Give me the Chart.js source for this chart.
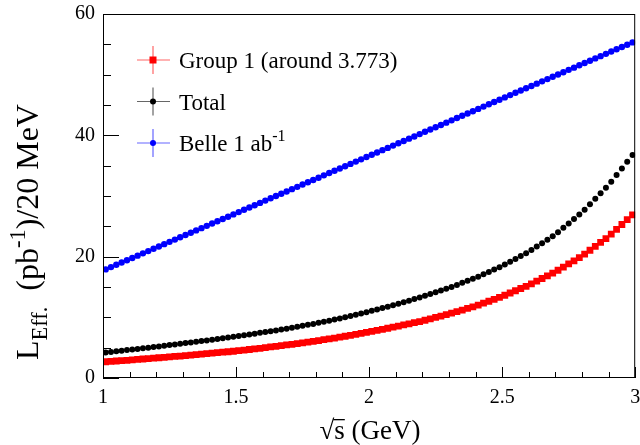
<!DOCTYPE html>
<html>
<head>
    <meta charset="UTF-8">
    <title>L eff vs sqrt(s)</title>
    <style>
        body { margin: 0; background: #fff; }
        canvas { display: block; }
    </style>
    <script src="https://cdn.jsdelivr.net/npm/chart.js"></script>
</head>
<body>
<canvas id="grafico" width="640" height="445"></canvas>
<script>
    // centros dos bins de 20 MeV (GeV)
    const energias = [
        1.01,1.03,1.05,1.07,1.09,1.11,1.13,1.15,1.17,1.19,
        1.21,1.23,1.25,1.27,1.29,1.31,1.33,1.35,1.37,1.39,
        1.41,1.43,1.45,1.47,1.49,1.51,1.53,1.55,1.57,1.59,
        1.61,1.63,1.65,1.67,1.69,1.71,1.73,1.75,1.77,1.79,
        1.81,1.83,1.85,1.87,1.89,1.91,1.93,1.95,1.97,1.99,
        2.01,2.03,2.05,2.07,2.09,2.11,2.13,2.15,2.17,2.19,
        2.21,2.23,2.25,2.27,2.29,2.31,2.33,2.35,2.37,2.39,
        2.41,2.43,2.45,2.47,2.49,2.51,2.53,2.55,2.57,2.59,
        2.61,2.63,2.65,2.67,2.69,2.71,2.73,2.75,2.77,2.79,
        2.81,2.83,2.85,2.87,2.89,2.91,2.93,2.95,2.97,2.99
    ];
    // Group 1 (around 3.773)
    const grupo1 = [
        2.68,2.74,2.80,2.86,2.92,2.99,3.06,3.13,3.20,3.27,
        3.34,3.41,3.48,3.55,3.62,3.69,3.77,3.85,3.93,4.01,
        4.09,4.17,4.25,4.33,4.41,4.50,4.60,4.70,4.80,4.90,
        5.01,5.12,5.23,5.34,5.45,5.56,5.68,5.80,5.92,6.04,
        6.17,6.31,6.45,6.59,6.73,6.88,7.04,7.20,7.36,7.52,
        7.69,7.86,8.03,8.20,8.37,8.55,8.74,8.93,9.12,9.31,
        9.52,9.75,9.98,10.21,10.44,10.68,10.94,11.20,11.46,11.72,
        12.01,12.33,12.65,12.97,13.29,13.64,14.01,14.38,14.75,15.12,
        15.52,15.96,16.40,16.84,17.28,17.76,18.28,18.80,19.32,19.84,
        20.42,21.06,21.70,22.34,22.98,23.70,24.50,25.30,26.10,26.90
    ];
    // Total
    const total = [
        4.20,4.30,4.40,4.50,4.60,4.70,4.80,4.90,5.00,5.10,
        5.21,5.32,5.43,5.54,5.65,5.76,5.87,5.98,6.09,6.20,
        6.31,6.43,6.55,6.67,6.79,6.92,7.05,7.18,7.31,7.44,
        7.57,7.71,7.85,7.99,8.13,8.28,8.44,8.60,8.76,8.92,
        9.09,9.27,9.45,9.63,9.81,10.01,10.22,10.43,10.64,10.85,
        11.07,11.30,11.53,11.76,11.99,12.23,12.49,12.75,13.01,13.27,
        13.55,13.84,14.13,14.42,14.71,15.02,15.35,15.68,16.01,16.34,
        16.70,17.09,17.48,17.87,18.26,18.69,19.16,19.63,20.10,20.57,
        21.09,21.66,22.23,22.80,23.37,24.02,24.75,25.48,26.21,26.94,
        27.75,28.65,29.55,30.45,31.35,32.35,33.45,34.55,35.65,36.75
    ];
    // Belle 1 ab^-1
    const belle = [
        17.90,18.28,18.66,19.03,19.41,19.79,20.17,20.55,20.92,21.30,
        21.68,22.06,22.44,22.81,23.19,23.57,23.95,24.33,24.70,25.08,
        25.46,25.84,26.22,26.59,26.97,27.35,27.73,28.11,28.48,28.86,
        29.24,29.62,30.00,30.37,30.75,31.13,31.51,31.89,32.26,32.64,
        33.02,33.40,33.78,34.15,34.53,34.91,35.29,35.67,36.04,36.42,
        36.80,37.18,37.56,37.93,38.31,38.69,39.07,39.45,39.82,40.20,
        40.58,40.96,41.34,41.71,42.09,42.47,42.85,43.23,43.60,43.98,
        44.36,44.74,45.12,45.49,45.87,46.25,46.63,47.01,47.38,47.76,
        48.14,48.52,48.90,49.27,49.65,50.03,50.41,50.79,51.16,51.54,
        51.92,52.30,52.68,53.05,53.43,53.81,54.19,54.57,54.94,55.32
    ];
    const xTicks = [1, 1.5, 2, 2.5, 3];
    const xMinor = [1.1, 1.2, 1.3, 1.4, 1.6, 1.7, 1.8, 1.9, 2.1, 2.2, 2.3, 2.4, 2.6, 2.7, 2.8, 2.9];
    const yTicks = [0, 20, 40, 60];
    const yMinor = [5, 10, 15, 25, 30, 35, 45, 50, 55];

    const fonte = 'Liberation Serif';

    function pontos(valores) {
        return energias.map((e, i) => ({ x: e, y: valores[i] }));
    }

    // texto com sub/sobrescritos; devolve a largura
    function textoRico(ctx, partes, x, y, tam, medir) {
        let w = 0;
        partes.forEach(p => {
            const t = p.tipo ? tam * 0.7 : tam;
            ctx.font = t + 'px "' + fonte + '"';
            let dy = 0;
            if (p.tipo === 'sub') dy = tam * 0.28;
            if (p.tipo === 'sup') dy = -tam * 0.42;
            if (!medir) ctx.fillText(p.t, x + w, y + dy);
            w += ctx.measureText(p.t).width;
        });
        return w;
    }

    const legenda = [
        { cor: '#ff0000', estilo: 'rect', partes: [{ t: 'Group 1 (around 3.773)' }] },
        { cor: '#000000', estilo: 'circle', partes: [{ t: 'Total' }] },
        { cor: '#0000ff', estilo: 'circle', partes: [{ t: 'Belle 1 ab' }, { t: '-1', tipo: 'sup' }] }
    ];

    const moldura = {
        id: 'moldura',
        afterDatasetsDraw(chart) {
            const { ctx, chartArea: a, scales: { x, y } } = chart;
            ctx.save();
            ctx.strokeStyle = '#000';
            ctx.lineWidth = 1;
            ctx.strokeRect(a.left + 0.5, a.top + 0.5, a.right - a.left - 1, a.bottom - a.top - 1);
            ctx.beginPath();
            xTicks.forEach(v => { const px = Math.round(x.getPixelForValue(v)) + 0.5; ctx.moveTo(px, a.bottom); ctx.lineTo(px, a.bottom - 11); });
            xMinor.forEach(v => { const px = Math.round(x.getPixelForValue(v)) + 0.5; ctx.moveTo(px, a.bottom); ctx.lineTo(px, a.bottom - 6); });
            yTicks.forEach(v => { const py = Math.round(y.getPixelForValue(v)) + 0.5; ctx.moveTo(a.left, py); ctx.lineTo(a.left + 16, py); });
            yMinor.forEach(v => { const py = Math.round(y.getPixelForValue(v)) + 0.5; ctx.moveTo(a.left, py); ctx.lineTo(a.left + 8, py); });
            ctx.stroke();
            ctx.restore();
        },
        afterDraw(chart) {
            const { ctx } = chart;
            ctx.save();
            ctx.fillStyle = '#000';
            ctx.textBaseline = 'alphabetic';

            // titulo eixo x
            const tx = [{ t: '\u221As (GeV)' }];
            const wx = textoRico(ctx, tx, 0, 0, 27, true);
            const x0 = 370 - wx / 2;
            textoRico(ctx, tx, x0, 439, 27);
            ctx.font = '27px "' + fonte + '"';
            const wr = ctx.measureText('\u221A').width;
            const ws = ctx.measureText('s').width;
            ctx.fillRect(x0 + wr - 1, 419, ws + 1, 1.3);

            // titulo eixo y
            const ty = [{ t: 'L' }, { t: 'Eff.', tipo: 'sub' }, { t: '  (pb' }, { t: '-1', tipo: 'sup' }, { t: ')/20 MeV' }];
            const wy = textoRico(ctx, ty, 0, 0, 32, true);
            ctx.translate(38, 232);
            ctx.rotate(-Math.PI / 2);
            textoRico(ctx, ty, -wy / 2, 0, 32);
            ctx.restore();

            // legenda
            ctx.save();
            legenda.forEach((item, i) => {
                const cy = 60 + 41.5 * i;
                const cx = 153;
                ctx.strokeStyle = item.cor;
                ctx.globalAlpha = 0.6;
                ctx.lineWidth = 1.2;
                ctx.beginPath();
                ctx.moveTo(cx - 16, cy); ctx.lineTo(cx + 17, cy);
                ctx.moveTo(cx, cy - 14); ctx.lineTo(cx, cy + 14);
                ctx.stroke();
                ctx.globalAlpha = 1;
                ctx.fillStyle = item.cor;
                ctx.beginPath();
                if (item.estilo === 'rect') ctx.rect(cx - 3.5, cy - 3.5, 7, 7);
                else ctx.arc(cx, cy, 3, 0, Math.PI * 2);
                ctx.fill();
                ctx.fillStyle = '#000';
                textoRico(ctx, item.partes, 179, cy + 8, 23);
            });
            ctx.restore();
        }
    };

    const ctx = document.getElementById('grafico').getContext('2d');
    new Chart(ctx, {
        type: 'scatter',
        data: {
            datasets: [
                { label: 'Group 1 (around 3.773)', data: pontos(grupo1), pointStyle: 'rect', pointRadius: 4.8,
                  backgroundColor: '#ff0000', borderWidth: 0, showLine: false },
                { label: 'Total', data: pontos(total), pointStyle: 'circle', pointRadius: 3,
                  backgroundColor: '#000000', borderWidth: 0, showLine: false },
                { label: 'Belle 1 ab-1', data: pontos(belle), pointStyle: 'circle', pointRadius: 3.2,
                  backgroundColor: '#0000ff', borderWidth: 0, showLine: false }
            ]
        },
        options: {
            responsive: false,
            animation: false,
            layout: { padding: { top: 14, right: 4, left: 0, bottom: 0 } },
            plugins: { legend: { display: false }, tooltip: { enabled: false } },
            scales: {
                x: {
                    type: 'linear', min: 1, max: 3,
                    afterFit(s) { s.height = 67; s.paddingLeft = 0; s.paddingRight = 0; },
                    afterBuildTicks(s) { s.ticks = xTicks.map(v => ({ value: v })); },
                    grid: { display: false, drawTicks: false, tickLength: 0 }, border: { display: false },
                    ticks: { color: '#000', font: { family: fonte, size: 20 }, padding: 8,
                             maxRotation: 0, autoSkip: false, callback: v => String(v) }
                },
                y: {
                    min: 0, max: 60,
                    afterFit(s) { s.width = 103; s.paddingTop = 0; s.paddingBottom = 0; },
                    afterBuildTicks(s) { s.ticks = yTicks.map(v => ({ value: v })); },
                    grid: { display: false, drawTicks: false, tickLength: 0 }, border: { display: false },
                    ticks: { color: '#000', font: { family: fonte, size: 20 }, padding: 8, callback: v => String(v) }
                }
            }
        },
        plugins: [moldura]
    });
</script>
</body>
</html>
